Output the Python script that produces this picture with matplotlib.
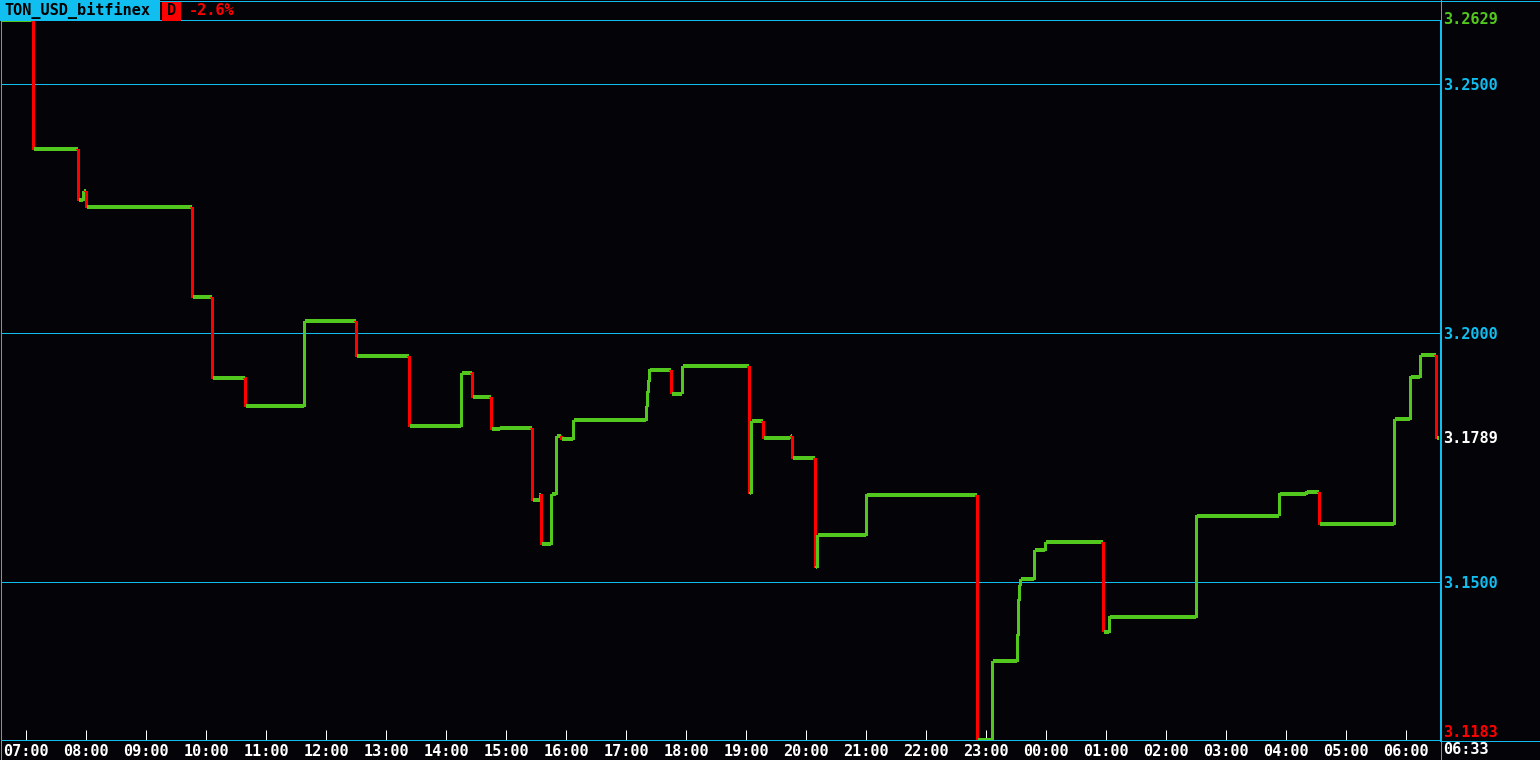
import matplotlib
matplotlib.use("Agg")
import matplotlib.pyplot as plt
from matplotlib.collections import LineCollection
from matplotlib.patches import Rectangle

symbol = "TON_USD_bitfinex"
period = "D"
change_label = "-2.6%"

# time the new price starts, and the price
times = ["06:35", "07:08", "07:53", "07:58", "08:01", "09:47", "10:07", "10:40",
         "11:39", "12:31", "13:24", "14:16", "14:27", "14:46", "14:54", "15:27",
         "15:35", "15:36", "15:46", "15:51", "15:56", "16:08", "17:21", "17:22",
         "17:23", "17:24", "17:46", "17:57", "19:04", "19:06", "19:18", "19:45",
         "19:47", "20:10", "20:12", "21:01", "22:52", "23:07", "23:32", "23:33",
         "23:34", "23:35", "23:49", "00:00", "00:58", "01:04", "02:31", "03:54",
         "04:21", "04:34", "05:49", "06:05", "06:15", "06:31"]
prices = [3.2629, 3.2369, 3.2267, 3.2285, 3.2253, 3.2072, 3.1910, 3.1853,
          3.2024, 3.1954, 3.1813, 3.1920, 3.1871, 3.1807, 3.1809, 3.1665,
          3.1677, 3.1576, 3.1677, 3.1793, 3.1787, 3.1825, 3.1853, 3.1882,
          3.1904, 3.1926, 3.1878, 3.1934, 3.1679, 3.1823, 3.1789, 3.1793,
          3.1749, 3.1530, 3.1594, 3.1675, 3.1183, 3.1341, 3.1394, 3.1464,
          3.1494, 3.1506, 3.1564, 3.1580, 3.1400, 3.1430, 3.1633, 3.1677,
          3.1681, 3.1616, 3.1827, 3.1912, 3.1956, 3.1789]
last_time = "06:33"

hour_labels = ["07:00", "08:00", "09:00", "10:00", "11:00", "12:00", "13:00",
               "14:00", "15:00", "16:00", "17:00", "18:00", "19:00", "20:00",
               "21:00", "22:00", "23:00", "00:00", "01:00", "02:00", "03:00",
               "04:00", "05:00", "06:00"]
grid_prices = [3.25, 3.20, 3.15]
price_high = 3.2629
price_low = 3.1183
price_last = 3.1789

bg = "#040308"
cyan = "#10BEF0"
green = "#52C81E"
red = "#FF0000"
mono = "DejaVu Sans Mono"
fs = 11
px = 0.72  # one pixel in points


def to_minutes(labels, start=None):
    out = []
    prev = start
    for s in labels:
        h, m = s.split(":")
        v = int(h) * 60 + int(m)
        if prev is not None:
            while v < prev:
                v += 1440
        out.append(v)
        prev = v
    return out


t_min = to_minutes(times)
t_end = to_minutes([last_time], t_min[-1])[0]
hour_x = to_minutes(hour_labels, 420)

# hold each price until the next change
xs, ys = [], []
for i, (t, p) in enumerate(zip(t_min, prices)):
    if i > 0 and t - 1 > xs[-1]:
        xs.append(t - 1)
        ys.append(ys[-1])
    xs.append(t)
    ys.append(p)
xs.append(t_end)
ys.append(ys[-1])

segs, cols = [], []
for i in range(1, len(xs)):
    segs.append([(xs[i - 1], ys[i - 1]), (xs[i], ys[i])])
    cols.append(red if ys[i] < ys[i - 1] else green)

fig = plt.figure(figsize=(15.4, 7.6), dpi=100, facecolor=bg)
ax = fig.add_axes([1 / 1540, 20 / 760, 1439 / 1540, 720 / 760])
ax.set_facecolor(bg)
ax.set_xlim(t_min[0], t_min[0] + 1439)
ax.set_ylim(price_low, price_high)

for y in grid_prices:
    ax.axhline(y, color=cyan, lw=px, zorder=1, antialiased=False)

lc = LineCollection(segs, colors=cols, linewidths=1.45, antialiased=False,
                    capstyle="butt", joinstyle="miter", zorder=3)
ax.add_collection(lc)

for s in ax.spines.values():
    s.set_color(cyan)
    s.set_linewidth(px)
    s.set_antialiased(False)
    s.set_zorder(4)

ax.set_xticks(hour_x)
ax.set_xticklabels(hour_labels, family=mono, fontsize=fs, fontweight="bold", color="white")
ax.tick_params(axis="x", direction="in", length=7.2, width=px, color="white", pad=3)

ax.yaxis.tick_right()
ax.set_yticks(grid_prices)
ax.set_yticklabels([f"{v:.4f}" for v in grid_prices], family=mono, fontsize=fs,
                   fontweight="bold", color=cyan)
ax.tick_params(axis="y", length=0, pad=2)

ytr = ax.get_yaxis_transform()
ax.text(1.002, price_high, f"{price_high:.4f}", transform=ytr, color=green,
        family=mono, fontsize=fs, fontweight="bold", va="center", ha="left", clip_on=False)
ax.text(1.002, price_last, f"{price_last:.4f}", transform=ytr, color="white",
        family=mono, fontsize=fs, fontweight="bold", va="center", ha="left", clip_on=False)
ax.text(1.002, price_low, f"{price_low:.4f}", transform=ytr, color=red,
        family=mono, fontsize=fs, fontweight="bold", va="bottom", ha="left", clip_on=False)

# header, frame and time box
ov = fig.add_axes([0, 0, 1, 1], zorder=10)
ov.set_xlim(0, 1540)
ov.set_ylim(760, 0)
ov.axis("off")
ov.patch.set_alpha(0)
ov.add_patch(Rectangle((0, 0), 160, 20.5, color=cyan, lw=0))
ov.add_patch(Rectangle((162, 1), 19, 19.5, color=red, lw=0))
ov.text(4, 10.5, symbol, family=mono, fontsize=fs, fontweight="bold", color="black", va="center")
ov.text(171.5, 10.5, period, family=mono, fontsize=fs, fontweight="bold", color="black",
        va="center", ha="center")
ov.text(189, 10.5, change_label, family=mono, fontsize=fs, fontweight="bold", color=red,
        va="center")
for xx, yy in [([0, 1540], [0.5, 0.5]), ([0, 1540], [759.5, 759.5]),
               ([0.5, 0.5], [0, 760]), ([1539.5, 1539.5], [0, 760]),
               ([1440.5, 1440.5], [0, 760]), ([1440, 1540], [740.5, 740.5])]:
    ov.plot(xx, yy, color=cyan, lw=px, antialiased=False)
ov.text(1443, 750, last_time, family=mono, fontsize=fs, fontweight="bold", color="white",
        va="center")

fig.savefig("out.png", dpi=100, facecolor=bg)
